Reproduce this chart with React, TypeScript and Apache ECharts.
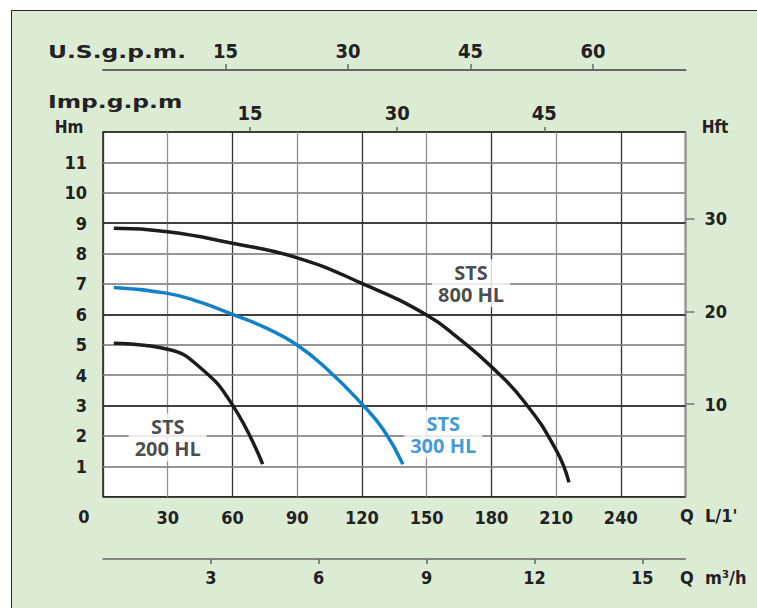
import React, { useEffect, useRef } from "react";
import * as echarts from "echarts";

// Flow in L/min, head in m
const q800 = [5, 30, 60, 90, 120, 150, 165, 180, 195, 210, 216];
const h800 = [8.83, 8.72, 8.34, 7.86, 7.02, 5.98, 5.2, 4.28, 3.15, 1.54, 0.47];
const q300 = [5, 30, 45, 60, 75, 90, 105, 120, 130, 139];
const h300 = [6.88, 6.69, 6.4, 6.0, 5.57, 4.99, 4.12, 3.05, 2.2, 1.07];
const q200 = [5, 30, 45, 60, 74];
const h200 = [5.05, 4.85, 4.25, 3.02, 1.07];

const curveNames = ["STS 800 HL", "STS 300 HL", "STS 200 HL"];
const labelTexts = ["STS\n800 HL", "STS\n300 HL", "STS\n200 HL"];
const labelQ = [170.6, 157.7, 30];
const labelH = [7.02, 2.06, 1.96];

const qMax = 270; // L/min
const hMax = 12; // m
const hLines = [1, 2, 3, 4, 5, 6, 7, 8, 9, 10, 11];
const hftTicks = [10, 20, 30];
const usTicks = [15, 30, 45, 60];
const impTicks = [15, 30, 45];
const m3Ticks = [3, 6, 9, 12, 15];

const BLACK = "#1c1c1c";
const BLUE = "#1480c6";
const TXT = "#222";
const GRID_DARK = "#333";
const GRID_LIGHT = "#8f8f8f";
const NUMFONT = "'Liberation Sans Narrow', 'DejaVu Sans Condensed', 'Liberation Sans', sans-serif";
const LBLFONT = "'Open Sans', 'Noto Sans', sans-serif";

// chart canvas is placed at (OX, OY) inside the page frame
const OX = 12;
const OY = 11;

export default function App() {
  const ref = useRef<HTMLDivElement>(null);
  useEffect(() => {
    if (!ref.current) return;
    const chart = echarts.init(ref.current, undefined, { renderer: "svg" });
    const pair = (q: number[], h: number[]) => q.map((v, i) => [v, h[i]]);
    const numLabel = (size: number, show: (v: number) => boolean, margin: number, custom?: number[]) => ({
      show: true,
      margin,
      color: TXT,
      fontFamily: NUMFONT,
      fontWeight: "bold",
      fontSize: size,
      ...(custom ? { customValues: custom } : {}),
      formatter: (v: number) => (show(v) ? String(v) : ""),
    });
    const colors = [BLACK, BLUE, BLACK];
    const curve = (name: string, color: string, q: number[], h: number[]) => ({
      name,
      type: "line",
      xAxisIndex: 0,
      yAxisIndex: 0,
      smooth: 0.5,
      showSymbol: false,
      z: 5,
      lineStyle: { color, width: 3.5 },
      data: pair(q, h),
    });
    const txt = (x: number, y: number, text: string, font: string, align = "left", scaleX = 1) => ({
      type: "text",
      x: x - OX,
      y: y - OY,
      scaleX,
      style: { text, fill: TXT, font, align, verticalAlign: "middle" },
    });
    const noLine = { show: false, onZero: false };
    chart.setOption({
      animation: false,
      backgroundColor: "transparent",
      grid: {
        left: 103 - OX,
        top: 132 - OY,
        right: 757 - 685.5,
        bottom: 608 - 496.7,
        show: true,
        backgroundColor: "#ffffff",
        borderColor: "#222",
        borderWidth: 1.5,
      },
      xAxis: [
        {
          type: "value",
          position: "bottom",
          min: 0,
          max: qMax,
          interval: 30,
          axisLine: noLine,
          axisTick: { show: false },
          axisLabel: numLabel(18, (v) => v > 0 && v < qMax, 12),
          splitLine: { show: true, lineStyle: { color: [GRID_DARK, GRID_LIGHT], width: 1.3 } },
        },
        {
          type: "value",
          position: "top",
          min: 0,
          max: qMax / 4.54609,
          axisLine: noLine,
          axisTick: { show: true, length: 5, customValues: impTicks, lineStyle: { color: "#666", width: 1.5 } },
          axisLabel: numLabel(20, () => true, 9, impTicks),
          splitLine: { show: false },
        },
        {
          type: "value",
          position: "top",
          offset: 62,
          min: 0,
          max: qMax / 3.78541,
          axisLine: { show: true, onZero: false, lineStyle: { color: "#666", width: 2 } },
          axisTick: { show: true, length: 6, customValues: usTicks, lineStyle: { color: "#666", width: 1.5 } },
          axisLabel: numLabel(20, () => true, 9, usTicks),
          splitLine: { show: false },
        },
        {
          type: "value",
          position: "bottom",
          offset: 62.3,
          min: 0,
          max: (qMax * 60) / 1000,
          axisLine: { show: true, onZero: false, lineStyle: { color: "#666", width: 1.5 } },
          axisTick: { show: true, length: 5, customValues: m3Ticks, lineStyle: { color: "#666", width: 1.5 } },
          axisLabel: numLabel(18, () => true, 9, m3Ticks),
          splitLine: { show: false },
        },
      ],
      yAxis: [
        {
          type: "value",
          position: "left",
          min: 0,
          max: hMax,
          interval: 1,
          axisLine: noLine,
          axisTick: { show: false },
          axisLabel: numLabel(18, (v) => v > 0 && v < hMax, 16),
          splitLine: { show: true, lineStyle: { color: [GRID_DARK, GRID_LIGHT, GRID_LIGHT], width: 1.5 } },
        },
        {
          type: "value",
          position: "right",
          min: 0,
          max: hMax * 3.28084,
          axisLine: noLine,
          axisTick: { show: true, length: 9, customValues: hftTicks, lineStyle: { color: "#777", width: 1.5 } },
          axisLabel: numLabel(18, () => true, 19, hftTicks),
          splitLine: { show: false },
        },
      ],
      graphic: [
        txt(48, 52, "U.S.g.p.m.", "bold 18px 'DejaVu Sans', sans-serif", "left", 1.3),
        txt(48, 102, "Imp.g.p.m", "bold 18px 'DejaVu Sans', sans-serif", "left", 1.3),
        txt(69, 127, "Hm", `bold 17px ${NUMFONT}`, "center"),
        txt(715, 127, "Hft", `bold 17px ${NUMFONT}`, "center"),
        txt(84, 516, "0", `bold 18px ${NUMFONT}`, "center"),
        txt(680, 515, "Q  L/1'", `bold 18px ${NUMFONT}`),
        txt(680, 577, "Q  m³/h", `bold 18px ${NUMFONT}`),
      ],
      series: [
        {
          // horizontal grid lines (darker every 3 m)
          type: "line",
          xAxisIndex: 0,
          yAxisIndex: 0,
          data: [],
          z: 1,
          markLine: {
            silent: true,
            symbol: "none",
            label: { show: false },
            animation: false,
            data: hLines.map((v) => ({
              yAxis: v,
              lineStyle: { color: v % 3 === 0 ? GRID_DARK : GRID_LIGHT, width: 1.5, type: "solid" },
            })),
          },
        },
        curve(curveNames[0], BLACK, q800, h800),
        curve(curveNames[1], BLUE, q300, h300),
        curve(curveNames[2], BLACK, q200, h200),
        {
          type: "scatter",
          xAxisIndex: 0,
          yAxisIndex: 0,
          symbolSize: 1,
          z: 6,
          itemStyle: { color: "transparent" },
          data: labelTexts.map((t, i) => ({
            value: [labelQ[i], labelH[i]],
            name: t,
            label: { color: colors[i] },
          })),
          label: {
            show: true,
            position: "inside",
            formatter: (p: any) => p.name,
            fontFamily: LBLFONT,
            fontWeight: "bold",
            fontSize: 20,
            lineHeight: 22,
            align: "center",
            backgroundColor: "#ffffff",
            padding: [2, 6],
          },
        },
      ],
    });
    return () => chart.dispose();
  }, []);
  return (
    <div style={{ position: "absolute", left: 0, top: 0, width: 757, height: 608, background: "#ffffff", overflow: "hidden" }}>
      <div
        style={{
          position: "absolute",
          left: 11,
          top: 10,
          width: 800,
          height: 700,
          background: "#dcebd4",
          borderLeft: "1.5px solid #2a2a2a",
          borderTop: "1.5px solid #2a2a2a",
        }}
      />
      <div
        ref={ref}
        style={{ position: "absolute", left: OX, top: OY, width: 757 - OX, height: 608 - OY }}
      />
    </div>
  );
}
